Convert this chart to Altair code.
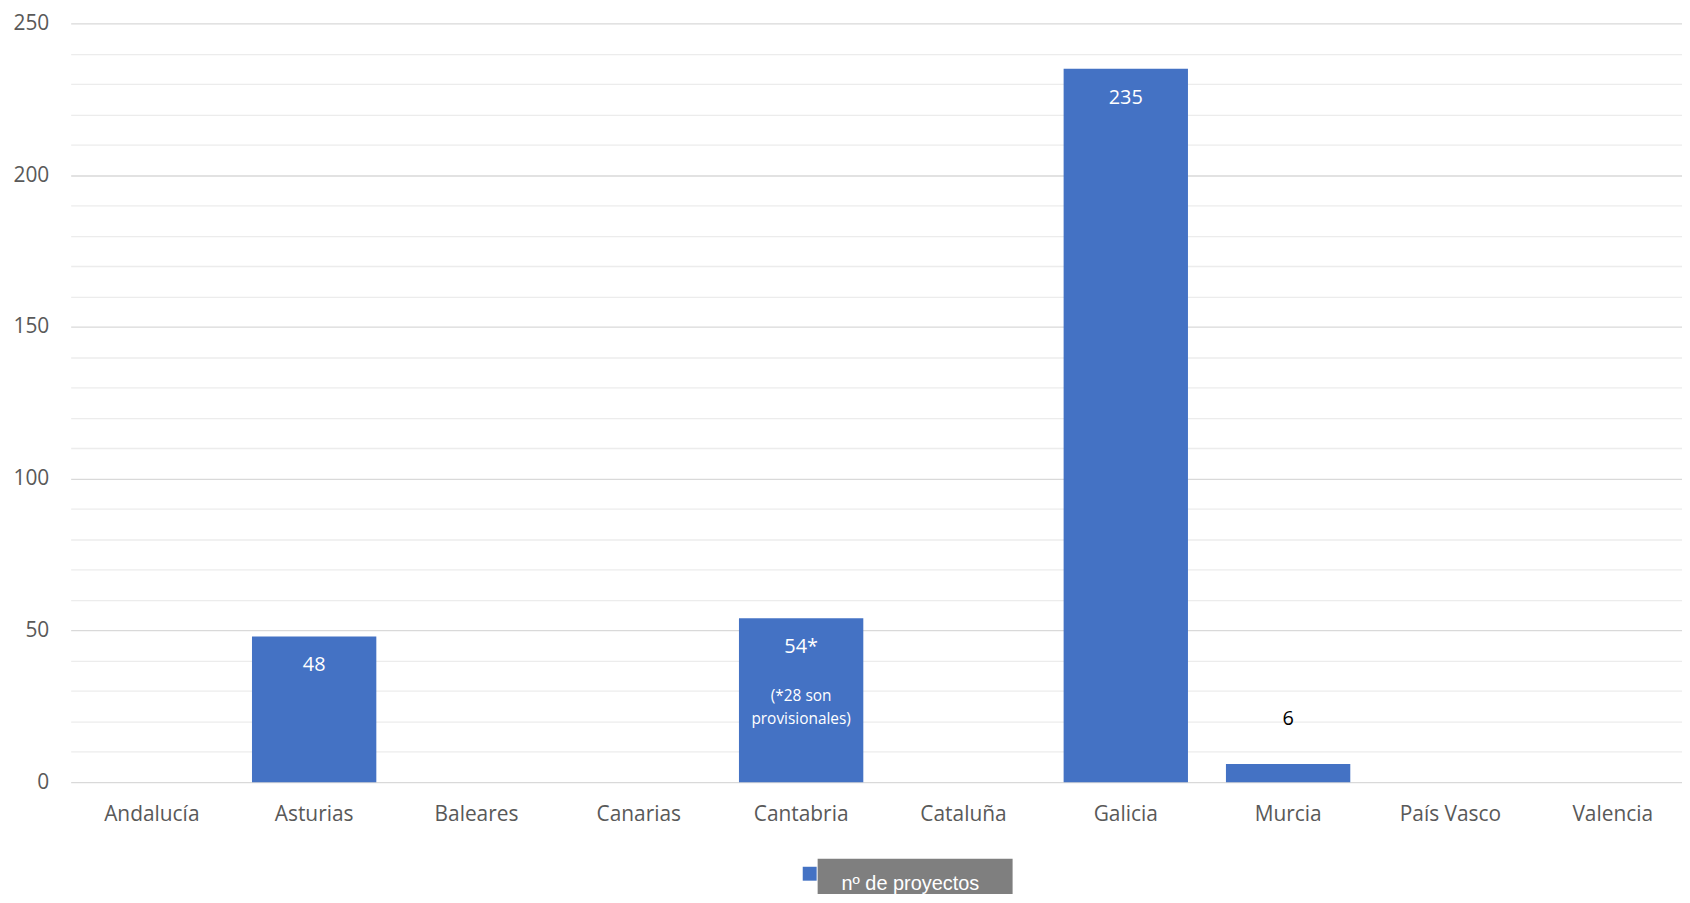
import altair as alt
import pandas as pd

regions = ["Andalucía", "Asturias", "Baleares", "Canarias", "Cantabria",
           "Cataluña", "Galicia", "Murcia", "País Vasco", "Valencia"]
values = [0, 48, 0, 0, 54, 0, 235, 6, 0, 0]
labels = ["", "48", "", "", "54*", "", "235", "6", "", ""]
notes = ["", "", "", "", "(*28 son\nprovisionales)", "", "", "", "", ""]
series = "nº de proyectos"
y_ticks = [0, 10, 20, 30, 40, 50, 60, 70, 80, 90, 100, 110, 120, 130, 140,
           150, 160, 170, 180, 190, 200, 210, 220, 230, 240, 250]

df = pd.DataFrame({"region": regions, "value": values, "label": labels,
                   "note": notes, "series": [series] * len(regions)})

FONT = "Open Sans"
BLUE = "#4472C4"

x_scale = alt.Scale(paddingInner=0.234, paddingOuter=0.117, range=[0, 1632])
y_scale = alt.Scale(domain=[0, 250], nice=False)

x_enc = alt.X("region:N", sort=regions, title=None, scale=x_scale,
              axis=alt.Axis(labelAngle=0, ticks=False, domain=False,
                            labelFont=FONT, labelFontSize=21,
                            labelColor="#595959", labelPadding=21))
y_enc = alt.Y("value:Q", scale=y_scale, title=None,
              axis=alt.Axis(values=y_ticks, tickCount=26,
                            labelExpr="datum.value % 50 === 0 ? datum.label : ''",
                            labelOverlap=False, labelFlush=False,
                            gridColor=alt.condition("datum.value % 50 === 0",
                                                    alt.value("#d9d9d9"),
                                                    alt.value("#ececec")),
                            gridWidth=1.3,
                            ticks=False, domain=False,
                            labelFont=FONT, labelFontSize=21,
                            labelColor="#595959", labelPadding=22))

base = alt.Chart(df)

bars = base.mark_bar(color=BLUE).encode(
    x=x_enc, y=y_enc,
    color=alt.Color("series:N",
                    scale=alt.Scale(range=[BLUE]),
                    legend=alt.Legend(title=None, orient="none",
                                      legendX=733, legendY=845,
                                      symbolType="square", symbolSize=196,
                                      symbolStrokeWidth=0,
                                      labelFont="Liberation Sans",
                                      labelFontSize=20, labelColor="white",
                                      labelBaseline="top",
                                      labelOffset=22, padding=0)),
)

white_labels = base.transform_filter("datum.value > 20").mark_text(
    color="white", font=FONT, fontSize=20, baseline="middle", dy=29
).encode(x=x_enc, y=y_enc, text="label:N")

dark_labels = base.transform_filter("datum.value > 0 && datum.value <= 20").mark_text(
    color="black", font=FONT, fontSize=20, baseline="middle", dy=-45
).encode(x=x_enc, y=y_enc, text="label:N")

note_text = base.transform_filter("datum.note != ''").mark_text(
    color="white", font=FONT, fontSize=15.5, baseline="middle", dy=78,
    lineBreak="\n", lineHeight=23
).encode(x=x_enc, y=y_enc, text="note:N")

legend_box = alt.Chart(pd.DataFrame({"series": [series]})).mark_rect(
    color="#7f7f7f", clip=False
).encode(x=alt.value(751), x2=alt.value(947), y=alt.value(840), y2=alt.value(900))

chart = alt.layer(legend_box, bars, white_labels, dark_labels, note_text).properties(
    width=1620, height=763,
    background="white",
    autosize=alt.AutoSizeParams(type="none"),
    padding={"left": 63, "top": 13, "right": 0, "bottom": 110},
).configure_view(stroke=None)

chart.save("out.html", embed_options={"renderer": "svg", "actions": False})
